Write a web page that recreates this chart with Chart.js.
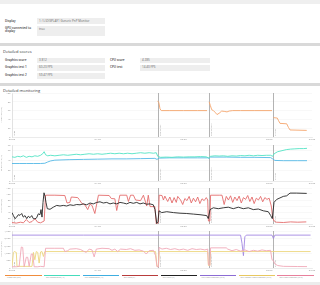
<!DOCTYPE html>
<html><head><meta charset="utf-8">
<script src="https://cdn.jsdelivr.net/npm/chart.js@4"></script>
<style>
html,body{margin:0;padding:0;background:#fff;}
body{width:320px;height:285px;position:relative;overflow:hidden;font-family:"Open Sans",Roboto,sans-serif;color:#333;}
.band{position:absolute;left:0;width:320px;background:#d9d9d9;}
.lbl{position:absolute;font-size:3px;line-height:3.6px;font-weight:600;color:#3a3a3a;white-space:nowrap;}
.box{position:absolute;background:#eeeeee;font-size:3px;color:#666;padding-left:2px;box-sizing:border-box;white-space:nowrap;overflow:hidden;}
.h{position:absolute;left:3px;font-size:4px;line-height:5px;color:#333;}
canvas{position:absolute;left:0;}
#legend{position:absolute;left:5px;top:275px;width:309px;display:flex;gap:2.4px;}
.li{flex:1;border-top:1.2px solid;font-size:1.8px;line-height:2.4px;color:#888;padding-top:0.8px;white-space:nowrap;overflow:hidden;padding-left:2px;}
</style></head>
<body>
<div class="band" style="top:0;height:4px;background:#efefef"></div>
<div class="lbl" style="left:5px;top:19.5px">Display</div>
<div class="box" style="left:37px;top:18.3px;width:68px;height:6px;line-height:6px">1: \\.\DISPLAY1 Generic PnP Monitor</div>
<div class="lbl" style="left:5px;top:26.5px">GPU connected to<br>display</div>
<div class="box" style="left:37px;top:25.7px;width:68px;height:10.3px;line-height:6px">true</div>
<div class="band" style="top:43.3px;height:2.4px"></div>
<div class="h" style="top:49.2px">Detailed scores</div>
<div class="lbl" style="left:5px;top:58.6px">Graphics score</div>
<div class="box" style="left:37px;top:57.7px;width:68px;height:5.3px;line-height:5.3px">3 812</div>
<div class="lbl" style="left:5px;top:66.2px">Graphics test 1</div>
<div class="box" style="left:37px;top:65.3px;width:68px;height:5.3px;line-height:5.3px">60.23 FPS</div>
<div class="lbl" style="left:5px;top:74px">Graphics test 2</div>
<div class="box" style="left:37px;top:73px;width:68px;height:5.6px;line-height:5.6px">59.47 FPS</div>
<div class="lbl" style="left:110px;top:58.6px">CPU score</div>
<div class="box" style="left:140px;top:57.7px;width:70px;height:5.3px;line-height:5.3px">4 285</div>
<div class="lbl" style="left:110px;top:66.2px">CPU test</div>
<div class="box" style="left:140px;top:65.3px;width:70px;height:5.3px;line-height:5.3px">14.40 FPS</div>
<div class="band" style="top:83.3px;height:2.4px"></div>
<div class="h" style="top:88.3px">Detailed monitoring</div>

<canvas id="c1" width="320" height="52" style="top:90px;width:320px;height:52px"></canvas>
<canvas id="c2" width="320" height="43" style="top:142px;width:320px;height:43px"></canvas>
<canvas id="c3" width="320" height="43" style="top:185px;width:320px;height:43px"></canvas>
<canvas id="c4" width="320" height="44" style="top:228px;width:320px;height:44px"></canvas>
<div id="legend"></div>
<div class="band" style="top:282px;height:3px;background:#ececec"></div>

<script>
// ---- DATA ----
const markerT = [0, 102, 138, 183];
const markerNames = ['Demo', 'Graphics test 1', 'Graphics test 2', 'CPU test'];
const legendNames = ['Frame rate (FPS)', 'GPU Temperature (°C)', 'CPU Temperature (°C)', 'GPU Load (%)', 'CPU Utility (%)', 'CPU Clock Frequency (MHz)', 'GPU Memory Clock Frequency (MHz)', 'GPU Clock Frequency (MHz)'];
const legendColors = ['#f08c3c', '#45dcbc', '#3eaee0', '#b83c3c', '#222222', '#8c6cd4', '#e8c860', '#e8809c'];

const fpsT = [102,102.8,103.6,104.5,110,120,130,136.5,137,138,138.8,139.8,141,142.5,143.5,145,146.8,149,150.5,152,154.5,160,170,182,182.5,183,185.7,186.6,187.6,192.3,193.5,194.6,206.3];
const fpsV = [82,78,64,60,60,60,60,60,null,80,72,62,60,55,51,54,59,58,57,59,60,60,60,60,null,44,43,37,31,30,22,16,15];

const gpuTempT = [0,2,4,6,8,10,12,14,16,18,20,21.5,22.5,23.5,25,27,30,33,36,39,42,45,48,51,54,57,60,63,66,69,72,75,78,81,84,87,90,93,96,99,101,102,104,108,112,116,120,124,128,132,136,137.5,139,142,145,148,151,154,157,160,163,166,169,172,175,178,181,182.5,183.5,186,189,192,195,198,201,204,206.5];
const gpuTempV = [47,46,48,47,49,46,48,47,49,48,50,53,57,51,49,50,49,50,51,50,51,52,51,52,53,52,53,52,53,54,53,54,53,54,53,54,55,54,55,54,55,48,46,46.5,46,47,46.5,47,47,47.5,47,45,48,49,48.5,49,48,49,48.5,49.5,49,50,49,50,49.5,50,50,48,53,57,59,61,62,62.5,63,63,63.5];

const cpuTempT = [0,5,10,15,20,23,25,27,30,35,40,50,60,70,80,90,100,101.5,103,110,120,130,137,138,139,150,160,170,181,182.5,184,190,200,206.5];
const cpuTempV = [34,34,34,34,34,34.5,37,39,40.5,41,41.5,42,42.5,43,43,43.5,44,42,44.5,45,45,45,45,44,46.5,46.5,46,46,45.5,43,40,39.5,39.5,39.5];

const gpuLoadT = [0,3,6,8,10,12,14,16,18,20,22.5,23.5,30,37,38.5,40.5,41.5,46,47,49,51,53,54.5,56,58,60.5,68,69.5,72,73.3,75.5,80.3,81.5,83,85,86.5,90,92,94.3,95.4,96.6,100,101,102.5,103,105,106,107,109,110.5,112,113.5,115,116,118,119.5,121,122.5,124,125.5,127,128.5,130,131.5,133,134.5,136,137,137.5,138.5,139,145,147,148.5,150,151.5,153,154.5,156,157.5,159,160.5,162,163.5,165,166.5,168,169.5,171,172.5,174,175.5,177,178.5,180,181.5,182.5,183.5,185,190,195,200,206];
const gpuLoadV = [5,3,6,4,15,5,8,18,6,4,10,96,96,95,70,72,90,88,82,68,64,48,66,62,35,96,95,85,84,45,96,96,75,96,96,80,78,96,60,96,58,58,0,5,96,95,80,93,75,90,70,88,72,92,80,65,85,78,92,70,86,74,90,68,84,78,88,80,10,10,96,96,96,65,92,80,94,72,90,78,93,70,88,82,95,75,90,68,86,80,92,74,88,82,86,60,20,10,6,5,7,6,7];

const cpuUtilT = [0,1,2.1,3.3,4.4,5.6,6.8,7.9,9.1,10.3,11.4,12.6,13.8,14.9,16.1,17.3,18.4,19.6,20.3,21,21.7,22.4,23.1,23.8,24.7,26.6,28.9,31.3,33.6,35.9,38.3,40.6,42.9,45.3,47.6,49.9,52.3,54.6,56.9,59.3,61.6,63.9,66.3,68.6,70.9,73.3,75.6,77.9,80.3,82.6,84.9,87.3,89.6,91.9,94.3,96.6,98.9,100.1,101.3,102.2,102.9,104.8,108.3,113,117.6,122.3,127,131.6,136.3,137.4,138.6,140.9,144.4,147.9,151.4,154.9,158.4,161.9,165.4,168.9,172.4,175.9,179.4,181.1,182.2,183.4,185.3,187.6,189.9,192.3,194.6,199.3,206.3];
const cpuUtilV = [38,28,18,23,31,29,35,23,28,18,26,21,28,18,17,21,34,31,48,23,72,104,92,72,51,49,56,62,60,62,60,64,62,65,64,67,64,70,67,72,74,70,72,67,70,67,72,70,67,72,69,72,67,70,66,67,64,48,2,8,44,38,41,38,36,35,33,31,28,18,48,54,51,54,56,51,56,51,54,48,50,44,41,28,18,72,82,87,92,94,103,103,102];

const cpuClkT = [0,50,100,160,161,162,163,164,182,183,184,209];
const cpuClkV = [4000,4000,4000,4000,3000,1500,3800,4000,4000,3600,4000,4000];

const memClkT = [0,1,1.5,3,3.5,14,15,16,17,18,19,20,21,22,23,100.5,101.5,102.5,103,137,137.5,138.5,139,209];
const memClkV = [200,1900,2000,1900,200,200,1900,1000,2000,1900,600,1950,2000,1400,2000,2000,200,200,2000,2000,300,300,2000,2000];

const gpuClkT = [0,3,5,6.5,7.5,8.5,10,11,12,13.5,14.5,15.5,18,20,22.5,23.5,30,36,37,39,40.5,45,48,50,52,54,56,57.5,59,63,68,70,72,74,76,80,83,86,89,92,94,96,99,100.5,101.5,102.5,103,105,108,111,114,117,120,123,126,129,132,135,137,137.5,138.5,139,150,151,154,157,160,163,166,169,172,175,178,181,182,183,184,186,190,200,206.5];
const gpuClkV = [150,150,200,2550,2500,150,1300,1300,200,1700,1700,150,150,200,150,2400,2400,2400,2000,2100,2300,2350,2250,2050,1900,2300,2200,1350,2300,2400,2350,2150,2300,2000,2300,2250,2350,2150,2200,2050,1700,2100,2150,1500,150,150,2500,2300,2400,2250,2350,2200,2300,2150,2350,2250,2300,2200,2300,400,300,2450,2450,2300,2100,2250,2050,2200,2000,2150,2050,2200,2100,2150,1000,900,500,300,200,180,170];

// ---- helpers ----
const pts = (t, v) => t.map((x, i) => ({x: x, y: v[i]}));
const pad2 = n => String(n).padStart(2, '0');
const FONT = '"Open Sans", Roboto, sans-serif';

const markerPlugin = {
  id: 'markers',
  beforeDatasetsDraw(c) {
    const {ctx, chartArea: a, scales: {x}} = c;
    ctx.save();
    markerT.forEach((t, i) => {
      const px = Math.round(x.getPixelForValue(t)) + 0.5;
      if (i > 0) {
        ctx.strokeStyle = '#a0a0a0'; ctx.lineWidth = 0.8;
        ctx.beginPath(); ctx.moveTo(px, a.top); ctx.lineTo(px, a.bottom); ctx.stroke();
      }
      ctx.save();
      ctx.translate(px + 2, a.bottom - 1);
      ctx.rotate(-Math.PI / 2);
      ctx.fillStyle = '#888';
      ctx.font = '1.8px ' + FONT;
      ctx.fillText(markerNames[i], 0, 0);
      ctx.restore();
    });
    ctx.restore();
  }
};

function makeChart(id, datasets, ymax, ystep, ytitle, padTop, xH) {
  return new Chart(document.getElementById(id), {
    type: 'line',
    data: {datasets: datasets.map(d => Object.assign({
      pointRadius: 0, borderWidth: 0.9, tension: 0, fill: false, spanGaps: false
    }, d))},
    options: {
      responsive: false, animation: false, devicePixelRatio: 1, events: [],
      layout: {padding: {top: padTop, right: 8, left: 0, bottom: 0}},
      plugins: {legend: {display: false}, tooltip: {enabled: false}},
      scales: {
        x: {
          type: 'linear', min: 0, max: 210,
          grid: {display: false, drawTicks: false},
          border: {display: true, color: '#e2e2e2', width: 0.6},
          ticks: {stepSize: 60, padding: 1, color: '#9a9a9a', font: {size: 2.5, family: FONT},
            callback: v => pad2(Math.floor(v / 60)) + ':' + pad2(v % 60)},
          afterFit(s) { s.height = xH; }
        },
        y: {
          min: 0, max: ymax,
          grid: {color: '#f3f3f3', lineWidth: 0.6, drawTicks: false},
          border: {display: true, color: '#cfcfcf', width: 0.6},
          ticks: {stepSize: ystep, padding: 1.5, color: '#9a9a9a', font: {size: 2.5, family: FONT}},
          title: {display: true, text: ytitle, color: '#9a9a9a', font: {size: 2, family: FONT}, padding: 0},
          afterFit(s) { s.width = 12; }
        }
      }
    },
    plugins: [markerPlugin]
  });
}

makeChart('c1', [
  {data: pts(fpsT, fpsV), borderColor: '#f5a56c'}
], 100, 20, 'Frame rate (FPS)', 2, 5);

makeChart('c2', [
  {data: pts(gpuTempT, gpuTempV), borderColor: '#52e3c4'},
  {data: pts(cpuTempT, cpuTempV), borderColor: '#55b9e6'}
], 70, 20, 'Temperature (°C)', 1, 4);

makeChart('c3', [
  {data: pts(cpuUtilT, cpuUtilV), borderColor: '#262626'},
  {data: pts(gpuLoadT, gpuLoadV), borderColor: '#e46c6c'}
], 120, 20, 'Percentage (%)', 0, 4);

makeChart('c4', [
  {data: pts(gpuClkT, gpuClkV), borderColor: '#f0a8b8'},
  {data: pts(memClkT, memClkV), borderColor: '#ecd67e'},
  {data: pts(cpuClkT, cpuClkV), borderColor: '#a388e2'}
], 4500, 1000, 'Frequency (MHz)', 1, 4);

const lg = document.getElementById('legend');
legendNames.forEach((n, i) => {
  const d = document.createElement('div');
  d.className = 'li';
  d.style.borderTopColor = legendColors[i];
  d.textContent = n;
  lg.appendChild(d);
});
</script>
</body></html>
